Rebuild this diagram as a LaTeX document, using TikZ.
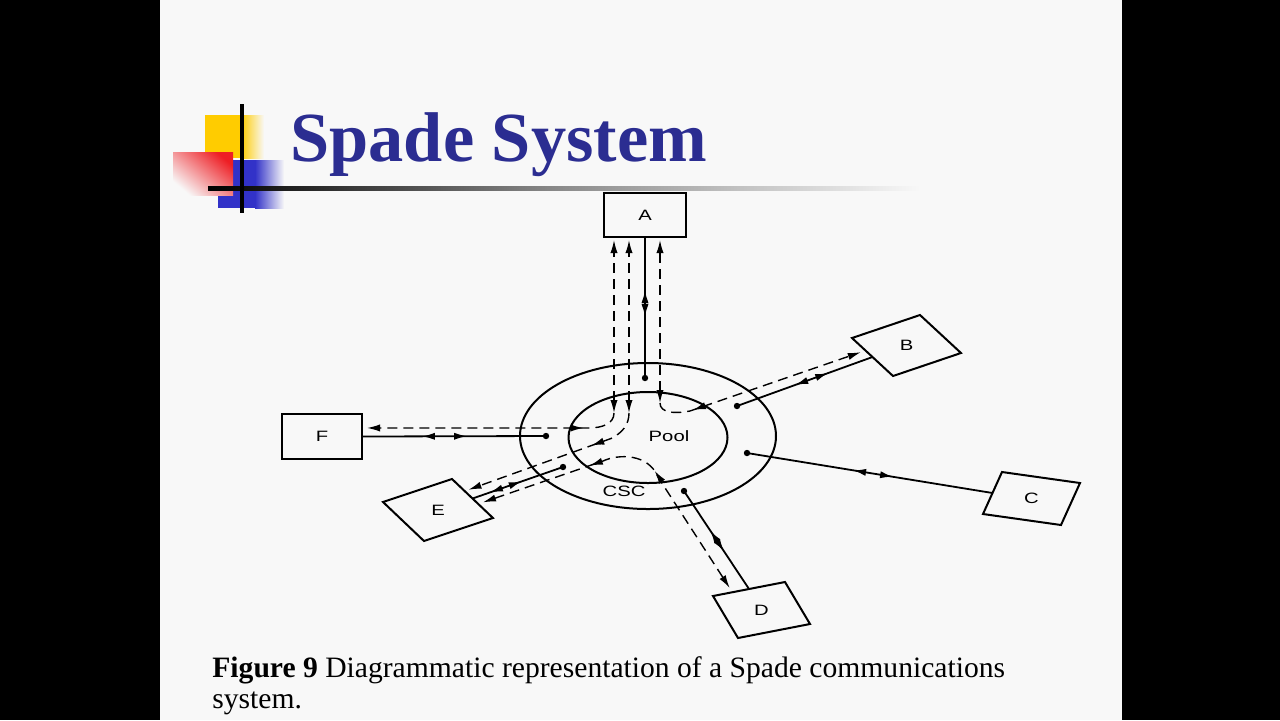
\documentclass[tikz,border=0pt]{standalone}
\usepackage{fontspec}
\setmainfont{Liberation Serif}
\newfontfamily\diagfont[FakeStretch=1.35]{Liberation Sans}
\usetikzlibrary{arrows.meta,calc,decorations.markings,shapes.geometric}

\definecolor{slidebg}{RGB}{248,248,248}
\definecolor{titleblue}{RGB}{43,45,145}
\definecolor{logoyel}{RGB}{255,204,0}
\definecolor{logored}{RGB}{238,30,36}
\definecolor{logoblu}{RGB}{50,50,200}

\tikzset{
    box/.style={draw, line width=1pt, inner sep=0pt, outer sep=0pt, font=\diagfont\fontsize{7.5}{9}\selectfont},
    slbox/.style={draw, line width=1pt, inner sep=0pt, outer sep=0pt, minimum size=10pt},
    lbl/.style={font=\diagfont\fontsize{7.5}{9}\selectfont, inner sep=0pt},
    ring/.style={draw, ellipse, line width=1pt, inner sep=0pt},
    solidln/.style={line width=0.9pt},
    dashln/.style={line width=0.7pt, dash pattern=on 5pt off 3pt},
    duplex/.style 2 args={postaction={decorate}, decoration={markings,
        mark=at position #1 with {\arrowreversed{>}},
        mark=at position #2 with {\arrow{>}}}},
    midfwd/.style={postaction={decorate}, decoration={markings,
        mark=at position #1 with {\arrow{>}}}},
    midback/.style={postaction={decorate}, decoration={markings,
        mark=at position #1 with {\arrowreversed{>}}}},
    midbacktwo/.style 2 args={postaction={decorate}, decoration={markings,
        mark=at position #1 with {\arrowreversed{>}},
        mark=at position #2 with {\arrowreversed{>}}}},
}

\begin{document}
\begin{tikzpicture}[>={Latex[length=6.5pt,width=3.6pt]}, x=0.5pt, y=-0.5pt]
    % Slide
    \fill[black] (0,0) rectangle (1280,720);
    \fill[slidebg] (160,0) rectangle (1122,720);

    % Logo
    \fill[logoyel] (205,115) rectangle (242,158);
    \shade[left color=logoyel, right color=slidebg] (241,115) rectangle (264,158);
    \fill[logoblu] (218,160) rectangle (256,208);
    \shade[left color=logoblu, right color=slidebg] (255,160) rectangle (284,208);
    \shade[top color=logored, bottom color=slidebg, shading angle=-40] (173,152) rectangle (233,195);
    \shade[left color=black, right color=slidebg, middle color=black!45] (208,186) rectangle (920,190);
    \draw[line width=1.6pt] (242,104) -- (242,213);

    % Title
    \node[anchor=base west, inner sep=0pt, text=titleblue, font=\fontsize{35.2}{40}\selectfont\bfseries] (title) at (290,161) {Spade System};

    % Ring
    \node[ring, minimum width=128pt, minimum height=73pt] (csc) at (648,436) {};
    \node[ring, minimum width=79.5pt, minimum height=45.5pt] (pool) at (648,437.5) {};
    \node[lbl] (poolLbl) at (669,436) {Pool};
    \node[lbl] (cscLbl) at (624,491) {CSC};

    % Stations
    \node[box, minimum width=41pt, minimum height=22pt] (A) at (645,215) {A};
    \node[box, minimum width=40pt, minimum height=22.5pt] (F) at (322,436.5) {F};
    \node[slbox, cm={3.4,1.15,-2.05,1.9,(0,0)}] (B) at (906.5,345.5) {};
    \node[slbox, cm={3.9,-0.55,0.95,2.1,(0,0)}] (C) at (1031.5,498.5) {};
    \node[slbox, cm={3.6,0.7,-1.25,2.1,(0,0)}] (D) at (761.5,610) {};
    \node[slbox, cm={3.45,1.15,-2.05,1.95,(0,0)}] (E) at (438,510) {};
    \node[lbl] (Blbl) at (B.center) {B};
    \node[lbl] (Clbl) at (C.center) {C};
    \node[lbl] (Dlbl) at (D.center) {D};
    \node[lbl] (Elbl) at (E.center) {E};

    % CSC links
    \coordinate (dA) at (645,378);
    \coordinate (dB) at (737,406);
    \coordinate (dC) at (747,453);
    \coordinate (dD) at (684,491);
    \coordinate (dE) at (563,467);
    \coordinate (dF) at (546,436);
    \draw[solidln, duplex={0.376}{0.567}] (A.south) -- (dA);
    \draw[solidln, duplex={0.327}{0.571}] (B.west) -- (dB);
    \draw[solidln, duplex={0.405}{0.568}] (C.west) -- (dC);
    \draw[solidln, duplex={0.383}{0.597}] (D.north) -- (dD);
    \draw[solidln, duplex={0.193}{0.544}] (E.east) -- (dE);
    \draw[solidln, duplex={0.326}{0.571}] (F.east) -- (dF);
    \foreach \d in {dA,dB,dC,dD,dE,dF}
        \fill (\d) circle (1.6pt);

    % Pool channels
    \coordinate (jF) at (614,413);
    \coordinate (jE) at (629,413);
    \coordinate (jB) at (660,403);
    \foreach \j in {jF,jE,jB}
        \draw[dashln, <->, shorten >=1.5pt] (\j) -- (\j |- A.south);
    \draw[dashln, ->, shorten >=2.5pt, midback=19pt] (jF) .. controls (614,424) and (602,428) .. (588,428)
        -- ($(F.north east)!0.31!(F.south east)$);
    \draw[dashln, ->, shorten >=2pt, midfwd=27pt] (jE) .. controls (629,425) and (622,433) .. (611,438.5)
        -- ($(E.north east)!0.31!(E.south east)$);
    \draw[dashln, ->, shorten >=2.5pt, midback=19pt] (jB) .. controls (660,413) and (675,414) .. (690,411)
        -- ($(B.north west)!0.33!(B.south west)$);
    \draw[dashln, <->, shorten <=2.5pt, shorten >=2.5pt, midbacktwo={59pt}{-72pt}]
        ($(E.north east)!0.64!(E.south east)$) -- (603,461) .. controls (618,454) and (648,453) .. (658,477)
        -- ($(D.north west)!0.27!(D.north east)$);

    % Caption
    \node[anchor=base west, inner sep=0pt, font=\fontsize{14.8}{18}\selectfont] (cap1) at (212,677)
        {\textbf{Figure 9} Diagrammatic representation of a Spade communications};
    \node[anchor=base west, inner sep=0pt, font=\fontsize{14.8}{18}\selectfont] (cap2) at (212,708) {system.};
\end{tikzpicture}
\end{document}
